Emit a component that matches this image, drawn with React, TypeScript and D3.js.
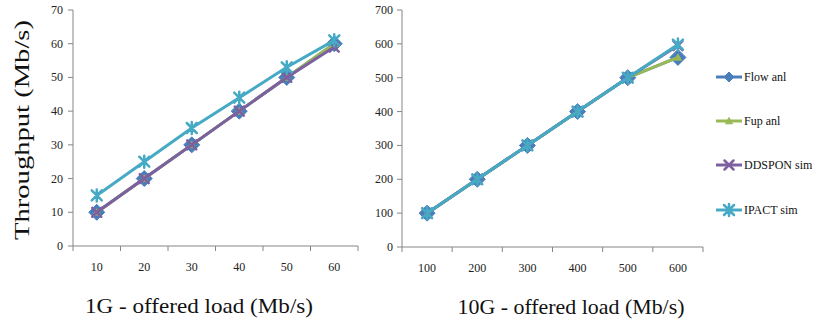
import React from "react";
import * as d3 from "d3";

const categories1G = ["10", "20", "30", "40", "50", "60"];
const categories10G = ["100", "200", "300", "400", "500", "600"];

const seriesNames = ["Flow anl", "Fup  anl", "DDSPON sim", "IPACT sim"];
const seriesColors = ["#4a7ebb", "#98b954", "#7d60a0", "#46aac5"];
const seriesMarkers = ["diamond", "triangle", "x", "star"];

const flow1G = [10, 20, 30, 40, 50, 60];
const fup1G = [10, 20, 30, 40, 50, 60];
const ddspon1G = [10, 20, 30, 40, 50, 59];
const ipact1G = [15, 25, 35, 44, 53, 61];

const flow10G = [100, 200, 300, 400, 500, 560];
const fup10G = [100, 200, 300, 400, 500, 560];
const ddspon10G = [100, 200, 300, 400, 500, 595];
const ipact10G = [100, 200, 300, 400, 500, 598];

const yTicks1G = [0, 10, 20, 30, 40, 50, 60, 70];
const yTicks10G = [0, 100, 200, 300, 400, 500, 600, 700];

const FONT = "Liberation Serif, DejaVu Serif, serif";
const AXIS = "#868686";

function markerPath(kind: string, cx: number, cy: number, small: boolean): { d: string; fill: boolean } {
  if (kind === "diamond") {
    const s = small ? 5 : 8;
    return { d: `M${cx},${cy - s}L${cx + s},${cy}L${cx},${cy + s}L${cx - s},${cy}Z`, fill: true };
  }
  if (kind === "triangle") {
    const s = 3.5;
    return { d: `M${cx},${cy - s}L${cx + s},${cy + s * 0.8}L${cx - s},${cy + s * 0.8}Z`, fill: true };
  }
  if (kind === "x") {
    const s = 4.5;
    return { d: `M${cx - s},${cy - s}L${cx + s},${cy + s}M${cx - s},${cy + s}L${cx + s},${cy - s}`, fill: false };
  }
  const s = 5;
  return {
    d: `M${cx - s},${cy - s}L${cx + s},${cy + s}M${cx - s},${cy + s}L${cx + s},${cy - s}M${cx},${cy - s - 1}L${cx},${cy + s + 1}`,
    fill: false,
  };
}

function Marker({ kind, cx, cy, color, small }: { kind: string; cx: number; cy: number; color: string; small?: boolean }) {
  const m = markerPath(kind, cx, cy, !!small);
  return m.fill ? (
    <path d={m.d} fill={color} stroke={color} strokeWidth={1} />
  ) : (
    <path d={m.d} fill="none" stroke={color} strokeWidth={2.5} strokeLinecap="round" />
  );
}

type PanelProps = {
  left: number;
  right: number;
  top: number;
  bottom: number;
  categories: string[];
  yTicks: number[];
  series: number[][];
  labelRight: number;
  title: string;
  titleX: number;
  titleLen: number;
};

function Panel(p: PanelProps) {
  const x = d3.scaleBand<string>().domain(p.categories).range([p.left, p.right]).padding(0);
  const y = d3.scaleLinear().domain([0, p.yTicks[p.yTicks.length - 1]]).range([p.bottom, p.top]);
  const line = d3
    .line<number>()
    .x((_, i) => (x(p.categories[i]) as number) + x.bandwidth() / 2)
    .y((d) => y(d));
  const bounds = p.categories.map((c) => x(c) as number).concat([p.right]);
  return (
    <g>
      <line x1={p.left} x2={p.left} y1={p.top} y2={p.bottom} stroke={AXIS} strokeWidth={1} />
      <line x1={p.left} x2={p.right} y1={p.bottom} y2={p.bottom} stroke={AXIS} strokeWidth={1} />
      {p.yTicks.map((t) => (
        <g key={t}>
          <line x1={p.left - 5} x2={p.left} y1={y(t)} y2={y(t)} stroke={AXIS} />
          <text x={p.labelRight} y={y(t) + 4} textAnchor="end" fontSize={12} fontFamily={FONT} fill="#222">
            {t}
          </text>
        </g>
      ))}
      {bounds.map((b, i) => (
        <line key={i} x1={b} x2={b} y1={p.bottom} y2={p.bottom + 5} stroke={AXIS} />
      ))}
      {p.categories.map((c) => (
        <text
          key={c}
          x={(x(c) as number) + x.bandwidth() / 2}
          y={p.bottom + 25}
          textAnchor="middle"
          fontSize={12}
          fontFamily={FONT}
          fill="#222"
        >
          {c}
        </text>
      ))}
      {p.series.map((s, si) => (
        <g key={si}>
          <path d={line(s) || ""} fill="none" stroke={seriesColors[si]} strokeWidth={3} />
          {s.map((v, i) => (
            <Marker
              key={i}
              kind={seriesMarkers[si]}
              cx={(x(p.categories[i]) as number) + x.bandwidth() / 2}
              cy={y(v)}
              color={seriesColors[si]}
            />
          ))}
        </g>
      ))}
      <text
        x={p.titleX}
        y={p.bottom + 67}
        textAnchor="middle"
        fontSize={22}
        fontFamily={FONT}
        fill="#111"
        textLength={p.titleLen}
        lengthAdjust="spacingAndGlyphs"
      >
        {p.title}
      </text>
    </g>
  );
}

export default function App() {
  const legendY = [77, 121, 165, 210];
  return (
    <svg width={826} height={329} style={{ position: "absolute", left: 0, top: 0, background: "#fff" }}>
      <rect width={826} height={329} fill="#fff" />
      <Panel
        left={73}
        right={358}
        top={10}
        bottom={246}
        categories={categories1G}
        yTicks={yTicks1G}
        series={[flow1G, fup1G, ddspon1G, ipact1G]}
        labelRight={63}
        title="1G - offered load (Mb/s)"
        titleX={199}
        titleLen={228}
      />
      <Panel
        left={402}
        right={703}
        top={10}
        bottom={247}
        categories={categories10G}
        yTicks={yTicks10G}
        series={[flow10G, fup10G, ddspon10G, ipact10G]}
        labelRight={393}
        title="10G - offered load (Mb/s)"
        titleX={571}
        titleLen={227}
      />
      <text
        transform="translate(29,130) rotate(-90)"
        textAnchor="middle"
        fontSize={22}
        fontFamily={FONT}
        fill="#111"
        textLength={220}
        lengthAdjust="spacingAndGlyphs"
      >
        Throughput (Mb/s)
      </text>
      {seriesNames.map((n, i) => (
        <g key={n}>
          <line x1={716} x2={742} y1={legendY[i]} y2={legendY[i]} stroke={seriesColors[i]} strokeWidth={3} />
          <Marker kind={seriesMarkers[i]} cx={729} cy={legendY[i]} color={seriesColors[i]} small />
          <text x={744} y={legendY[i] + 4} fontSize={12} fontFamily={FONT} fill="#111">
            {n}
          </text>
        </g>
      ))}
    </svg>
  );
}
